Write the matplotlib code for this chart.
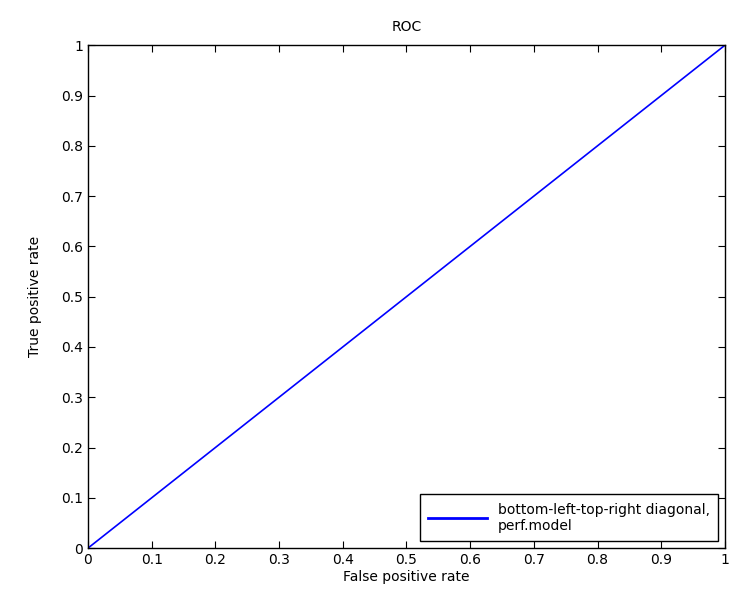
import matplotlib.pyplot as plt

fpr = [0.0, 1.0]
tpr = [0.0, 1.0]
series_label = "bottom-left-top-right diagonal,\nperf.model"
ticks = [0, 0.1, 0.2, 0.3, 0.4, 0.5, 0.6, 0.7, 0.8, 0.9, 1]
tick_labels = ["0", "0.1", "0.2", "0.3", "0.4", "0.5", "0.6", "0.7", "0.8", "0.9", "1"]

fig = plt.figure(figsize=(7.33, 6.03), dpi=100)
ax = fig.add_axes([0.12, 0.091, 0.869, 0.834])

ax.plot(fpr, tpr, color="#0000ff", linewidth=1.2, label=series_label)

ax.set_xlim(0, 1)
ax.set_ylim(0, 1)
ax.set_xticks(ticks)
ax.set_xticklabels(tick_labels)
ax.set_yticks(ticks)
ax.set_yticklabels(tick_labels)
ax.tick_params(direction="in", top=True, right=True, length=5, labelsize=10)
for s in ax.spines.values():
    s.set_linewidth(1.0)

ax.set_title("ROC", fontsize=10, pad=10)
ax.set_xlabel("False positive rate", fontsize=10, labelpad=2)
ax.set_ylabel("True positive rate", fontsize=10, labelpad=14)

leg = ax.legend(loc="lower right", fontsize=10, fancybox=False, framealpha=1,
                edgecolor="black", borderaxespad=0.5, handlelength=4.2,
                borderpad=0.6)
leg.get_frame().set_linewidth(1.0)
leg.get_lines()[0].set_linewidth(2)

fig.savefig("out.png", dpi=100)
